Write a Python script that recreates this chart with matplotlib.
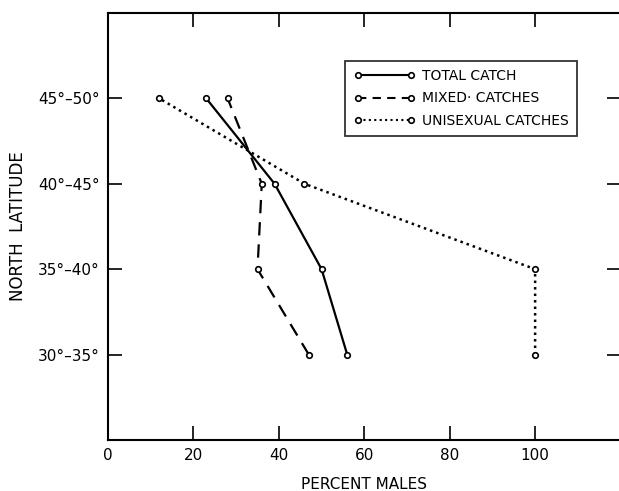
import matplotlib.pyplot as plt
from matplotlib.lines import Line2D

# latitude bands (bottom to top) and percent males per band
bands = ['30°–35°', '35°–40°', '40°–45°', '45°–50°']
total_catch = [56, 50, 39, 23]
mixed_catches = [47, 35, 36, 28]
unisexual_catches = [100, 100, 46, 12]
x_ticks = [0, 20, 40, 60, 80, 100]

plt.rcParams['font.family'] = ['DejaVu Sans']

fig = plt.figure(figsize=(6.19, 4.91), dpi=100)
ax = fig.add_axes([0.1745, 0.104, 0.828, 0.8695])

ypos = list(range(1, len(bands) + 1))
mk = dict(marker='o', markersize=4, markerfacecolor='white',
          markeredgecolor='black', markeredgewidth=1.2, color='black')

ax.plot(total_catch, ypos, linestyle='-', linewidth=1.6, **mk)
ax.plot(mixed_catches, ypos, linestyle=(0, (6, 4)), linewidth=1.6, **mk)
ax.plot(unisexual_catches, ypos, linestyle=(0, (1, 1.6)), linewidth=1.8, **mk)

ax.set_xlim(0, 120)
ax.set_ylim(0, 5)
ax.set_xticks(x_ticks)
ax.set_yticks(ypos)
ax.set_yticklabels(bands)
ax.tick_params(direction='in', length=10, width=1.2, top=True, right=True,
               labelsize=11, pad=6)
for s in ['left', 'bottom', 'top']:
    ax.spines[s].set_linewidth(1.5)
ax.spines['right'].set_visible(False)

ax.set_xlabel('PERCENT MALES', fontsize=11, labelpad=10)
ax.set_ylabel('NORTH  LATITUDE', fontsize=12, labelpad=8)

handles = [
    Line2D([], [], linestyle='-', linewidth=1.5, **mk),
    Line2D([], [], linestyle=(0, (4, 3)), linewidth=1.5, **mk),
    Line2D([], [], linestyle=(0, (1, 1.6)), linewidth=1.5, **mk),
]
leg = ax.legend(handles, ['TOTAL CATCH', 'MIXED· CATCHES', 'UNISEXUAL CATCHES'],
                loc='upper left', bbox_to_anchor=(0.463, 0.888),
                borderaxespad=0, numpoints=2, handlelength=4.4,
                handletextpad=0.5, fontsize=10, fancybox=False,
                labelspacing=0.6, borderpad=0.6)
leg.get_frame().set_edgecolor('black')
leg.get_frame().set_linewidth(1.3)

fig.savefig('out.png', dpi=100)
